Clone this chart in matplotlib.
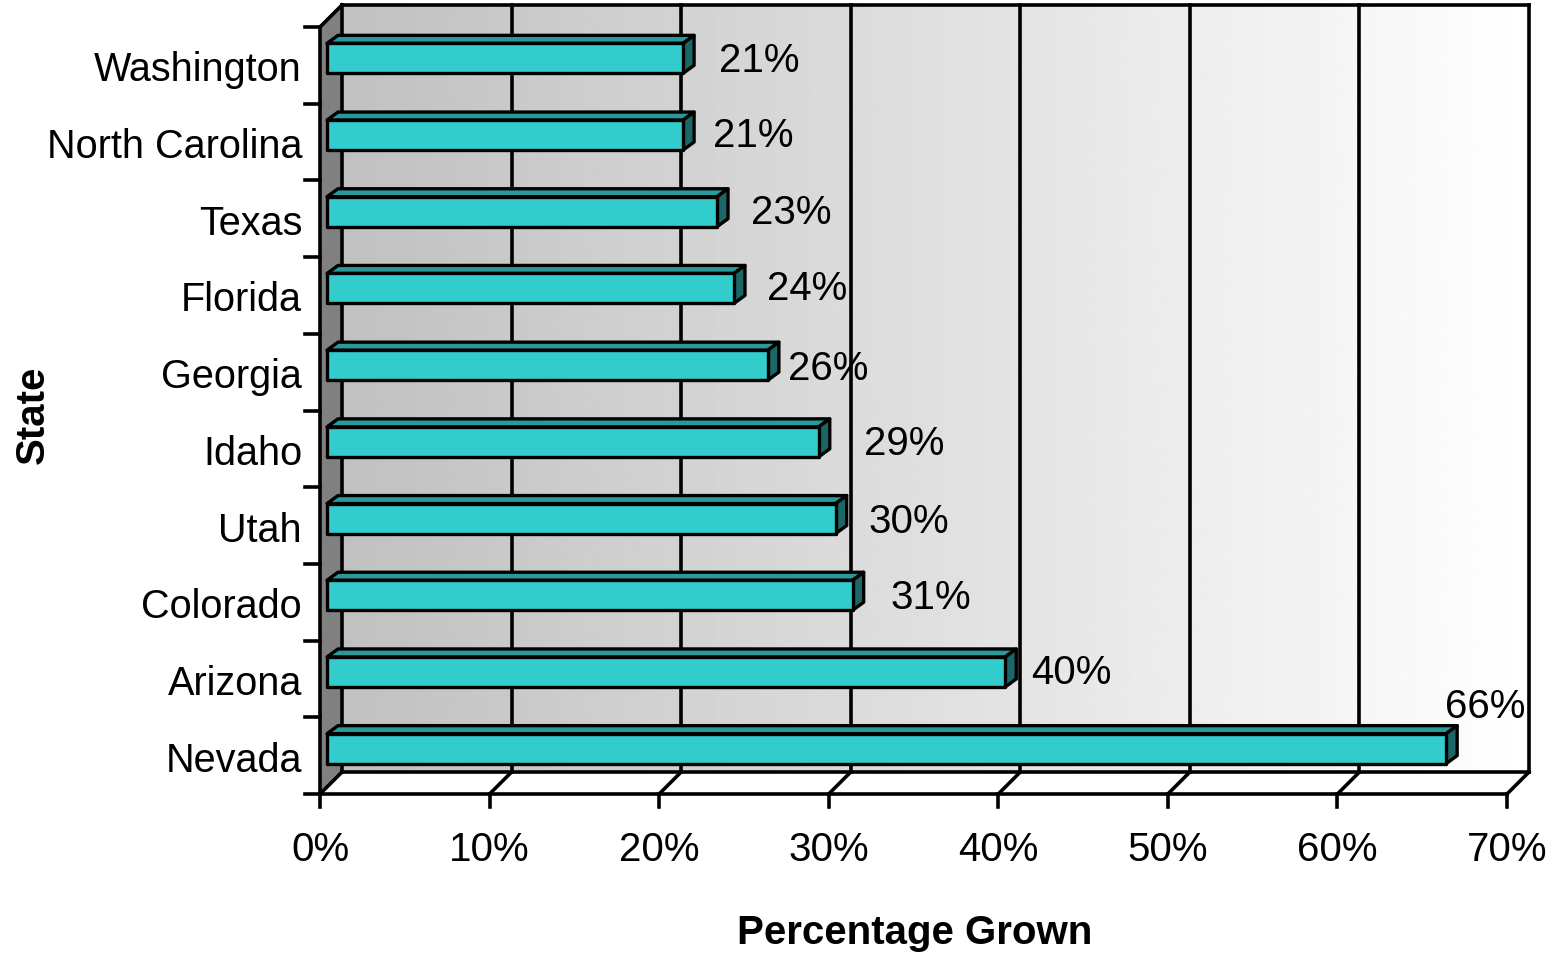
import numpy as np
import matplotlib
matplotlib.use("Agg")
import matplotlib.pyplot as plt
from matplotlib.patches import Polygon

plt.rcParams["font.family"] = ["Liberation Sans", "DejaVu Sans"]

# ---- data -------------------------------------------------------------
states = ["Washington", "North Carolina", "Texas", "Florida", "Georgia",
          "Idaho", "Utah", "Colorado", "Arizona", "Nevada"]
growth_pct = [21, 21, 23, 24, 26, 29, 30, 31, 40, 66]
x_ticks = [0, 10, 20, 30, 40, 50, 60, 70]
x_tick_labels = [f"{t}%" for t in x_ticks]
x_title = "Percentage Grown"
y_title = "State"

# per-label nudges in pixels (right, up) around the default label spot
label_nudge_px = [(3, 5), (-3, 7), (1, 7), (0, 7), (-13, 4),
                  (12, 6), (0, 5), (5, 5), (-7, 7), (-34, 50)]

# ---- geometry (pixels) ------------------------------------------------
FIG_W, FIG_H = 1558, 954
LEFT, BOTTOM, WIDTH, HEIGHT = 320, 159, 1187, 767   # front plane of the box
XMAX = x_ticks[-1]
n = len(states)

fig = plt.figure(figsize=(FIG_W / 100, FIG_H / 100), dpi=100)
ax = fig.add_axes([0, 0, 1, 1])
ux = XMAX / WIDTH          # data units per pixel, horizontal
uy = n / HEIGHT            # data units per pixel, vertical
ax.set_xlim(-LEFT * ux, XMAX + (FIG_W - LEFT - WIDTH) * ux)
ax.set_ylim(-BOTTOM * uy, n + (FIG_H - BOTTOM - HEIGHT) * uy)
ax.axis("off")

DEPTH = 22
DX, DY = DEPTH * ux, DEPTH * uy
LW = 2.6

# back wall with a grey-to-white gradient
grad = np.linspace(0.755, 1.0, 512).reshape(1, -1)
ax.imshow(grad, extent=[DX, XMAX + DX, DY, n + DY], cmap="gray", vmin=0, vmax=1,
          aspect="auto", interpolation="bilinear", zorder=0)

# left side wall
ax.add_patch(Polygon([(0, 0), (DX, DY), (DX, n + DY), (0, n)], closed=True,
                     facecolor="#808080", edgecolor="none", zorder=0.5))

line_kw = dict(color="black", lw=LW, solid_capstyle="projecting", zorder=1)

# gridlines on the back wall and floor diagonals
for t in x_ticks:
    ax.plot([t + DX, t + DX], [DY, n + DY], **line_kw)
    ax.plot([t, t + DX], [0, DY], **line_kw)
ax.plot([DX, XMAX + DX], [n + DY, n + DY], **line_kw)     # top of back wall
ax.plot([DX, XMAX + DX], [DY, DY], **line_kw)             # back edge of floor
ax.plot([0, DX], [n, n + DY], **line_kw)                  # top of side wall

# front axes lines and ticks
ax.plot([0, 0], [0, n], **line_kw)
ax.plot([0, XMAX], [0, 0], **line_kw)
for k in range(n + 1):
    ax.plot([-15 * ux, 0], [k, k], **line_kw)
for t, lab in zip(x_ticks, x_tick_labels):
    ax.plot([t, t], [-13 * uy, 0], **line_kw)
    ax.text(t, -55 * uy, lab, ha="center", va="center", fontsize=29, zorder=4)

# bars
FRONT_X, FRONT_Y = 7, 7        # front face offset into depth (px)
BACK_X, BACK_Y = 18, 15        # back face offset into depth (px)
BAR_H = 30 * uy
face_c, top_c, side_c = "#33CCCC", "#299999", "#1B6666"
edge_kw = dict(edgecolor="black", linewidth=2.4, joinstyle="round", zorder=3)

for i, (name, val) in enumerate(zip(states, growth_pct)):
    yc = n - i - 0.5
    fx, fy = FRONT_X * ux, FRONT_Y * uy
    bx, by = BACK_X * ux, BACK_Y * uy
    y0, y1 = yc - BAR_H / 2, yc + BAR_H / 2
    top = [(fx, y1 + fy), (val + fx, y1 + fy), (val + bx, y1 + by), (bx, y1 + by)]
    side = [(val + fx, y0 + fy), (val + bx, y0 + by), (val + bx, y1 + by), (val + fx, y1 + fy)]
    front = [(fx, y0 + fy), (val + fx, y0 + fy), (val + fx, y1 + fy), (fx, y1 + fy)]
    ax.add_patch(Polygon(top, closed=True, facecolor=top_c, **edge_kw))
    ax.add_patch(Polygon(side, closed=True, facecolor=side_c, **edge_kw))
    ax.add_patch(Polygon(front, closed=True, facecolor=face_c, **edge_kw))

    # category label
    ax.text(-18 * ux, yc - 4 * uy, name, ha="right", va="center",
            fontsize=28.5, zorder=4)

    # value label
    nx, ny = label_nudge_px[i]
    ax.text(val + fx + (73 + nx) * ux, yc + ny * uy, f"{val}%",
            ha="center", va="center", fontsize=29, zorder=4)

# axis titles
ax.text((915 - LEFT) * ux, (FIG_H - 933 - BOTTOM) * uy, x_title,
        ha="center", va="center", fontsize=29, fontweight="bold")
ax.text((33 - LEFT) * ux, (FIG_H - 415 - BOTTOM) * uy, y_title, rotation=90,
        ha="center", va="center", fontsize=29, fontweight="bold")

fig.savefig("out.png", dpi=100, facecolor="white")
